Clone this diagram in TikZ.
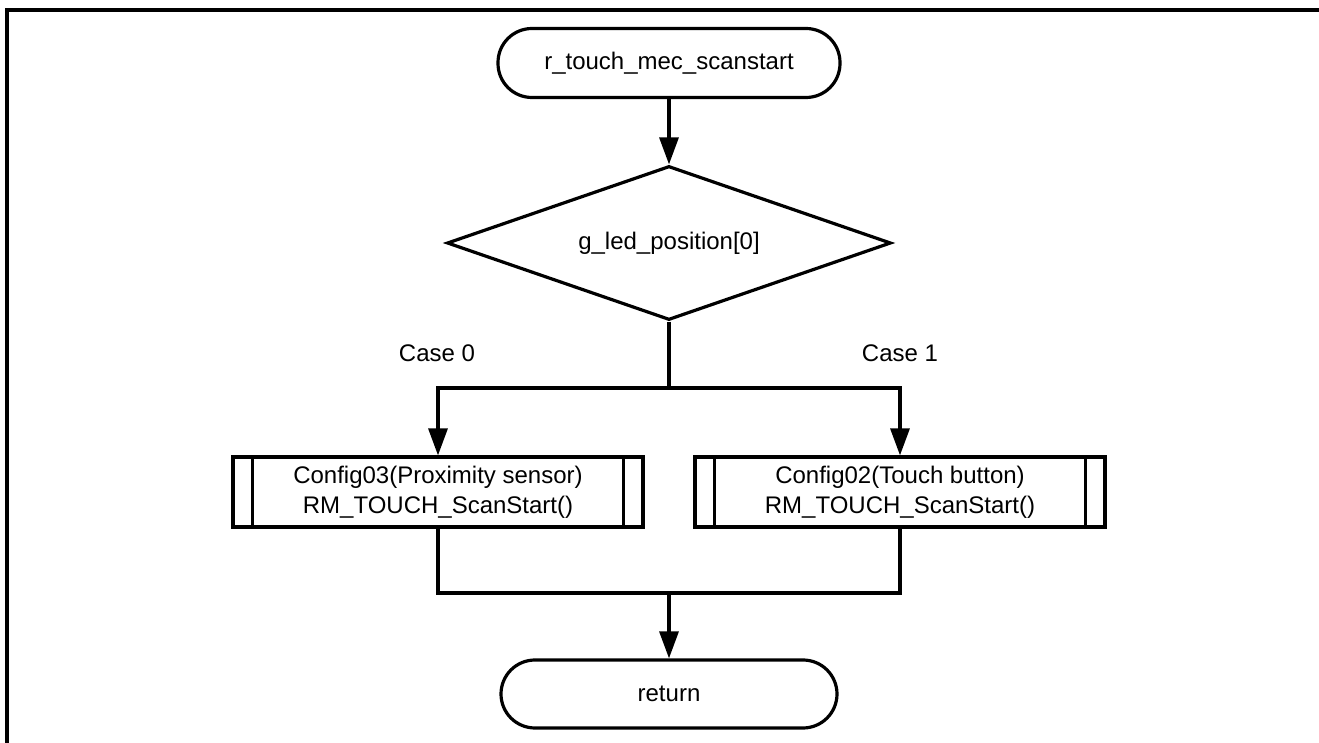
\documentclass[tikz,border=0pt]{standalone}
\usepackage{fontspec}
\setmainfont{Liberation Sans}
\usepackage{tikz}
\usetikzlibrary{arrows.meta, shapes.geometric, positioning}
\tikzset{>={Triangle[length=13.5pt,width=9.5pt]}}
\tikzset{
	term/.style={draw, rectangle, rounded corners=17pt, minimum width=171pt, minimum height=34.5pt},
	decide/.style={draw, diamond, aspect=2.9, inner sep=0pt, minimum width=222pt, minimum height=77pt},
	subproc/.style={draw, rectangle, align=center, inner sep=0pt, minimum width=205pt, minimum height=35pt},
}

\begin{document}
\begin{tikzpicture}[x=0.5pt, y=-0.5pt, line width=1.6pt, font=\fontsize{12}{15}\selectfont]
	\useasboundingbox (0,0) rectangle (1319,743);
	\draw[line width=1.7pt] (7,743) -- (7,10) -- (1319,10);

	\node[term] (start) at (669,63) {r\_touch\_mec\_scanstart};
	\node[decide] (sel) at (669,243) {g\_led\_position[0]};
	\coordinate (j1) at (669,388);
	\node (c0) at (437,353) {Case 0};  \node (c1) at (900,353) {Case 1};
	\node[subproc] (cfg3) at (438,492) {Config03(Proximity sensor)\\RM\_TOUCH\_ScanStart()};
	\node[subproc] (cfg2) at (900,492) {Config02(Touch button)\\RM\_TOUCH\_ScanStart()};
	\draw ([xshift=10.5pt]cfg3.north west) -- ([xshift=10.5pt]cfg3.south west);
	\draw ([xshift=-10.5pt]cfg3.north east) -- ([xshift=-10.5pt]cfg3.south east);
	\draw ([xshift=10.5pt]cfg2.north west) -- ([xshift=10.5pt]cfg2.south west);
	\draw ([xshift=-10.5pt]cfg2.north east) -- ([xshift=-10.5pt]cfg2.south east);
	\coordinate (j2) at (669,593);
	\node[term, minimum width=168pt, minimum height=34pt] (ret) at (669,694) {return};

	\draw [->] (start) -- (sel);
	\draw (sel) -- (j1);
	\draw [->] (j1) -| (cfg3);  \draw [->] (j1) -| (cfg2);
	\draw (cfg3) |- (j2);  \draw (cfg2) |- (j2);
	\draw [->] (j2) -- (ret);
\end{tikzpicture}
\end{document}
